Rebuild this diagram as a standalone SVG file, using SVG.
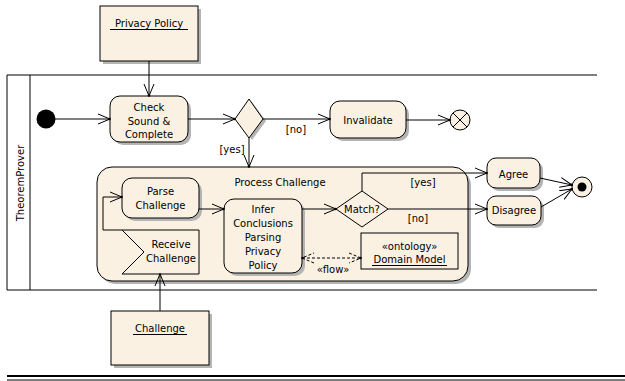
<svg xmlns="http://www.w3.org/2000/svg" width="625" height="381" viewBox="0 0 625 381">
<style>
text{font-family:"DejaVu Sans",Verdana,sans-serif;font-size:10px;fill:#000;text-anchor:middle}
.n{fill:#FBF1E3;stroke:#000;stroke-width:1}
.sh{fill:#B4B4B4;stroke:none}
.e{fill:none;stroke:#000;stroke-width:1}
.ln{stroke:#000;stroke-width:1;fill:none}
</style>
<defs>
<marker id="arr" markerWidth="14" markerHeight="12" refX="12" refY="6" orient="auto" markerUnits="userSpaceOnUse">
<path d="M0,1 L12,6 L0,11" fill="none" stroke="#000" stroke-width="1"/>
<circle cx="11.5" cy="6" r="1.3" fill="#000"/>
</marker>
<marker id="arrs" markerWidth="14" markerHeight="12" refX="12" refY="6" orient="auto-start-reverse" markerUnits="userSpaceOnUse">
<path d="M0,1 L12,6 L0,11" fill="none" stroke="#000" stroke-width="1" stroke-dasharray="3,2"/>
<circle cx="11.5" cy="6" r="1.3" fill="#000"/>
</marker>
</defs>

<g id="lane">
<path class="ln" d="M7,75 H597 M7,290 H597 M7,75 V290 M30,75 V290"/>
<text transform="translate(24,183) rotate(-90)">TheoremProver</text>
</g>

<g id="privacy-policy">
<rect class="sh" x="103" y="9" width="98" height="55"/>
<rect class="n" x="100" y="6" width="98" height="55"/>
<text x="149" y="27">Privacy Policy</text>
<line class="ln" x1="110" y1="29.5" x2="188" y2="29.5"/>
</g>

<g id="initial">
<circle cx="46" cy="119" r="9.5" fill="#000"/>
</g>

<g id="check">
<rect class="sh" x="113" y="99" width="78" height="46" rx="10"/>
<rect class="n" x="110" y="96" width="78" height="46" rx="10"/>
<text x="149" y="111">Check</text>
<text x="149" y="125">Sound &amp;</text>
<text x="149" y="138">Complete</text>
</g>

<g id="decision">
<polygon class="sh" points="252,102 266,121 252,140 238,121"/>
<polygon class="n" points="249,99 263,119 249,138 235,119"/>
</g>

<g id="invalidate">
<rect class="sh" x="333" y="104" width="76" height="37" rx="10"/>
<rect class="n" x="330" y="101" width="76" height="37" rx="10"/>
<text x="368" y="124">Invalidate</text>
</g>

<g id="flow-final">
<circle class="n" cx="460" cy="120" r="10"/>
<path class="ln" d="M453,113 L467,127 M467,113 L453,127"/>
</g>

<g id="process-challenge">
<rect class="sh" x="100" y="170" width="371" height="114" rx="15"/>
<rect class="n" x="97" y="167" width="371" height="114" rx="15"/>
<text x="280" y="186">Process Challenge</text>
</g>

<g id="parse">
<rect class="sh" x="125" y="181" width="77" height="40" rx="10"/>
<rect class="n" x="122" y="178" width="77" height="40" rx="10"/>
<text x="160.5" y="195">Parse</text>
<text x="160.5" y="209">Challenge</text>
</g>

<g id="receive">
<polygon class="n" points="122,230 199,230 199,274 122,274 144,252"/>
<text x="171" y="248">Receive</text>
<text x="171" y="262">Challenge</text>
</g>

<g id="infer">
<rect class="sh" x="227" y="202" width="78" height="74" rx="10"/>
<rect class="n" x="224" y="199" width="78" height="74" rx="10"/>
<text x="263" y="213">Infer</text>
<text x="263" y="227">Conclusions</text>
<text x="263" y="241">Parsing</text>
<text x="263" y="255">Privacy</text>
<text x="263" y="269">Policy</text>
</g>

<g id="match">
<polygon class="n" points="362,191 388,209 362,227 336,209"/>
<text x="362" y="213">Match?</text>
</g>

<g id="domain-model">
<rect class="n" x="361" y="233" width="97" height="36"/>
<text x="409.5" y="250">«ontology»</text>
<text x="409.5" y="263">Domain Model</text>
<line class="ln" x1="372" y1="265.5" x2="447" y2="265.5"/>
</g>

<g id="agree">
<rect class="sh" x="490" y="161" width="53" height="30" rx="9"/>
<rect class="n" x="487" y="158" width="53" height="30" rx="9"/>
<text x="513.5" y="178">Agree</text>
</g>

<g id="disagree">
<rect class="sh" x="490" y="199" width="54" height="29" rx="9"/>
<rect class="n" x="487" y="196" width="54" height="29" rx="9"/>
<text x="514" y="214">Disagree</text>
</g>

<g id="final">
<circle class="n" cx="582" cy="187" r="10"/>
<circle cx="582" cy="187" r="4.5" fill="#000"/>
</g>

<g id="challenge">
<rect class="sh" x="114" y="314" width="98" height="54"/>
<rect class="n" x="111" y="311" width="98" height="54"/>
<text x="160" y="332">Challenge</text>
<line class="ln" x1="133" y1="334.5" x2="187" y2="334.5"/>
</g>

<g id="connectors">
<path class="e" marker-end="url(#arr)" d="M55,119 H110"/>
<path class="e" marker-end="url(#arr)" d="M149,61 V96"/>
<path class="e" marker-end="url(#arr)" d="M188,119 H235"/>
<path class="e" marker-end="url(#arr)" d="M263,119 H330"/>
<path class="e" marker-end="url(#arr)" d="M406,120 H450"/>
<path class="e" marker-end="url(#arr)" d="M249,138 V167"/>
<path class="e" marker-end="url(#arr)" d="M122,230 H103 V197 H122"/>
<path class="e" marker-end="url(#arr)" d="M160,311 V274"/>
<path class="e" marker-end="url(#arr)" d="M199,209 H224"/>
<path class="e" marker-end="url(#arr)" d="M302,209 H336"/>
<path class="e" marker-end="url(#arr)" d="M362,191 V173 H487"/>
<path class="e" marker-end="url(#arr)" d="M388,209 H487"/>
<path class="e" marker-end="url(#arr)" d="M540,178 L572,185"/>
<path class="e" marker-end="url(#arr)" d="M541,207 L572,189"/>
<path class="e" stroke-dasharray="3,2" marker-start="url(#arrs)" marker-end="url(#arrs)" d="M302,258 H361"/>
<text x="296" y="133">[no]</text>
<text x="232" y="153">[yes]</text>
<text x="423" y="186">[yes]</text>
<text x="418" y="222">[no]</text>
<text x="333" y="273">«flow»</text>
</g>

<g id="frame">
<line x1="7" y1="376" x2="625" y2="376" stroke="#000" stroke-width="2"/>
<line x1="7" y1="380" x2="625" y2="380" stroke="#000" stroke-width="1"/>
</g>
</svg>
